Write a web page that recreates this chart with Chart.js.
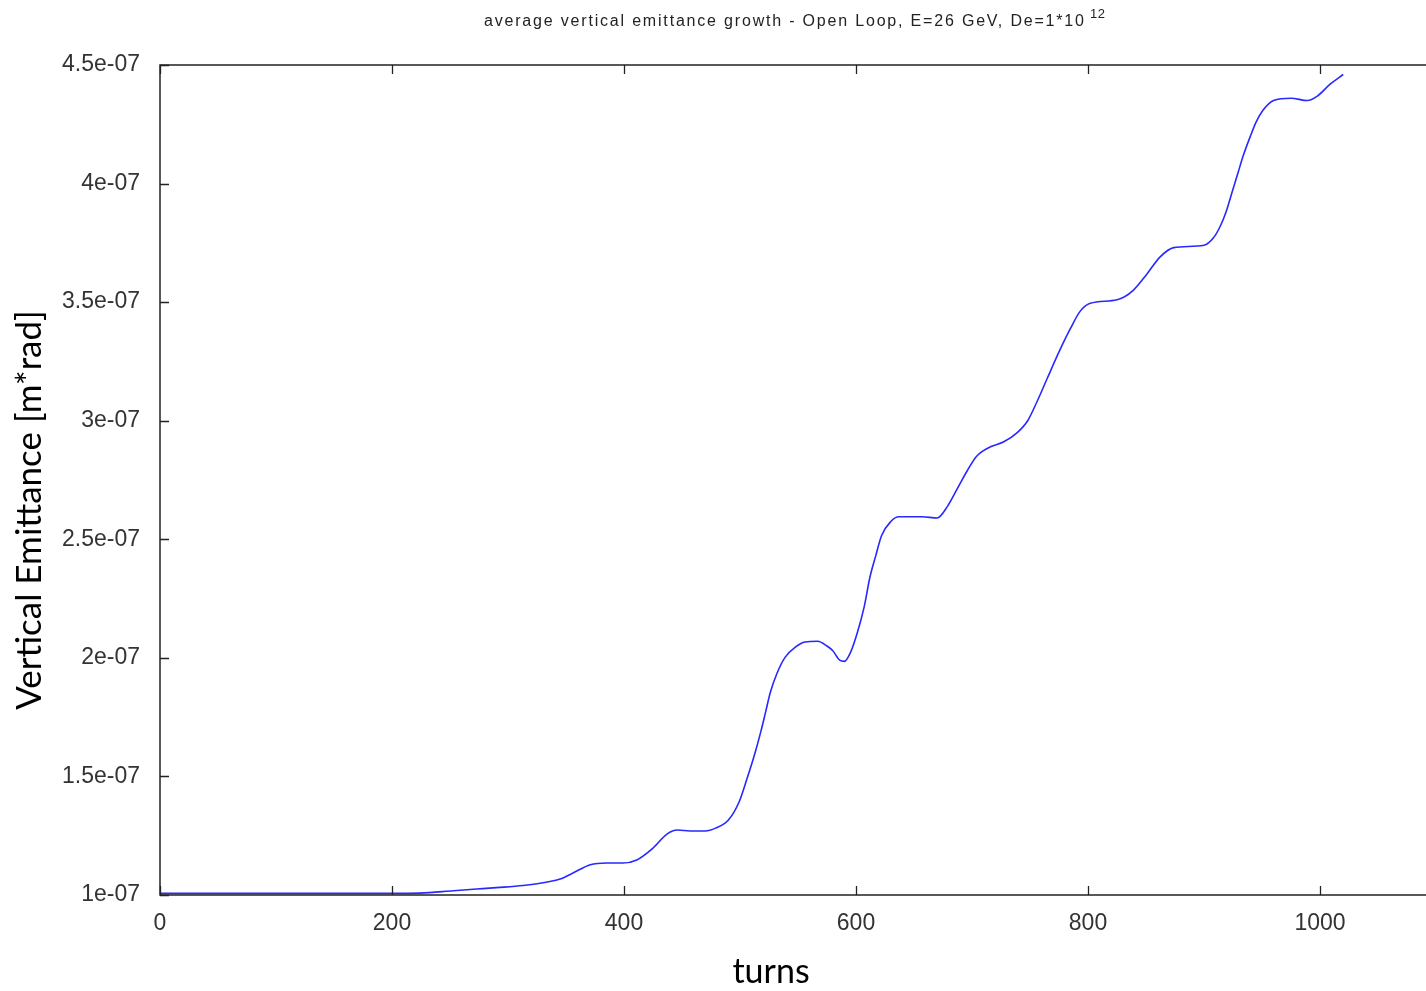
<!DOCTYPE html>
<html>
<head>
<meta charset="utf-8">
<script src="https://cdn.jsdelivr.net/npm/chart.js@4"></script>
<style>
  html, body { margin: 0; padding: 0; background: #fff; overflow: hidden; }
  #wrap { width: 1446px; height: 991px; }
</style>
</head>
<body>
<div id="wrap"><canvas id="emittance-chart" width="1446" height="991"></canvas></div>
<script>
const turns = [
    0, 100, 200, 224, 253, 273, 290, 313, 334, 345, 356, 371, 385, 399, 411,
    425, 437, 446, 457, 470, 479, 490, 499, 506, 513, 518, 522, 526, 532, 539,
    548, 556, 567, 575, 580, 586, 590, 595, 601, 607, 612, 617, 622, 630, 637,
    657, 670, 679, 687, 696, 704, 716, 727, 739, 748, 756, 765, 775, 785, 793,
    802, 825, 839, 851, 862, 874, 900, 908, 914, 919, 924, 929, 934, 940, 945,
    951, 960, 975, 989, 998, 1009, 1020,
];
const emittance = [
    1.007e-7, 1.007e-7, 1.007e-7, 1.008e-7, 1.018e-7, 1.025e-7, 1.031e-7, 1.04e-7, 1.055e-7, 1.067e-7, 1.093e-7, 1.128e-7, 1.135e-7, 1.135e-7, 1.148e-7,
    1.198e-7, 1.257e-7, 1.274e-7, 1.27e-7, 1.27e-7, 1.282e-7, 1.316e-7, 1.39e-7, 1.49e-7, 1.6e-7, 1.69e-7, 1.77e-7, 1.852e-7, 1.936e-7, 2.003e-7,
    2.046e-7, 2.067e-7, 2.07e-7, 2.05e-7, 2.03e-7, 1.99e-7, 1.985e-7, 2.02e-7, 2.104e-7, 2.214e-7, 2.34e-7, 2.43e-7, 2.515e-7, 2.575e-7, 2.595e-7,
    2.595e-7, 2.59e-7, 2.64e-7, 2.71e-7, 2.79e-7, 2.85e-7, 2.89e-7, 2.91e-7, 2.95e-7, 3.00e-7, 3.08e-7, 3.18e-7, 3.29e-7, 3.39e-7, 3.46e-7,
    3.495e-7, 3.51e-7, 3.55e-7, 3.62e-7, 3.69e-7, 3.73e-7, 3.74e-7, 3.77e-7, 3.82e-7, 3.88e-7, 3.96e-7, 4.04e-7, 4.12e-7, 4.2e-7, 4.26e-7,
    4.31e-7, 4.35e-7, 4.36e-7, 4.35e-7, 4.37e-7, 4.42e-7, 4.46e-7,
];
const xTicks = [0, 200, 400, 600, 800, 1000];
const yTicks = [1e-7, 1.5e-7, 2e-7, 2.5e-7, 3e-7, 3.5e-7, 4e-7, 4.5e-7];
const titleText = "average vertical emittance growth - Open Loop, E=26 GeV, De=1*10";
const titleExp = "12";
const xTitle = "turns";
const yTitle = "Vertical Emittance [m*rad]";

const ctx = document.getElementById("emittance-chart");
const tickFont = "'Liberation Sans', Arial, sans-serif";
const labelFont = "Lato, 'Open Sans', sans-serif";

function formatE07(v) {
    const m = Math.round(v * 1e8) / 10;
    return m + "e-07";
}

// frame with inward ticks, title and axis labels
const framePlugin = {
    id: "frame",
    afterDraw(chart) {
        const c = chart.ctx;
        const { left, top, right, bottom } = chart.chartArea;
        c.save();
        c.strokeStyle = "#222";
        c.lineWidth = 1.5;
        c.beginPath();
        c.moveTo(right, top);
        c.lineTo(left, top);
        c.lineTo(left, bottom);
        c.lineTo(right, bottom);
        c.lineTo(right, top);
        c.stroke();
        c.lineWidth = 1.3;
        c.beginPath();
        xTicks.forEach((t) => {
            const x = Math.round(chart.scales.x.getPixelForValue(t)) + 0.5;
            c.moveTo(x, bottom);
            c.lineTo(x, bottom - 9);
            c.moveTo(x, top);
            c.lineTo(x, top + 9);
        });
        yTicks.forEach((t) => {
            const y = Math.round(chart.scales.y.getPixelForValue(t)) + 0.5;
            c.moveTo(left, y);
            c.lineTo(left + 9, y);
        });
        c.stroke();

        // title, spread out to the width of the original
        c.fillStyle = "#222";
        c.textBaseline = "middle";
        c.textAlign = "left";
        c.font = "16px " + tickFont;
        c.letterSpacing = "0px";
        const plain = c.measureText(titleText).width;
        const spacing = (602 - plain) / titleText.length;
        c.letterSpacing = spacing.toFixed(2) + "px";
        c.fillText(titleText, 484, 22);
        c.letterSpacing = "0.5px";
        c.font = "13px " + tickFont;
        c.fillText(titleExp, 1090, 14);
        c.letterSpacing = "0px";

        // axis titles
        c.fillStyle = "#000";
        c.textAlign = "center";
        c.font = "34px " + labelFont;
        c.fillText(xTitle, 771, 972);
        c.translate(30, 510);
        c.rotate(-Math.PI / 2);
        c.font = "35px " + labelFont;
        c.fillText(yTitle, 0, 0);
        c.restore();
    },
};

const data = {
    datasets: [
        {
            label: "emittance",
            data: turns.map((t, i) => ({ x: t, y: emittance[i] })),
            borderColor: "rgb(40, 40, 255)",
            borderWidth: 1.6,
            pointRadius: 0,
            fill: false,
            cubicInterpolationMode: "monotone",
        },
    ],
};

const config = {
    type: "line",
    data,
    options: {
        responsive: false,
        animation: false,
        layout: { padding: { top: 65, right: 10, left: 0, bottom: 0 } },
        plugins: { legend: { display: false }, tooltip: { enabled: false } },
        scales: {
            x: {
                type: "linear",
                min: 0,
                max: 1100,
                grid: { display: false, drawTicks: false },
                border: { display: false },
                afterBuildTicks: (scale) => {
                    scale.ticks = xTicks.map((v) => ({ value: v }));
                },
                afterFit: (scale) => {
                    scale.height = 96;
                },
                ticks: {
                    padding: 15,
                    color: "#333",
                    font: { family: tickFont, size: 23 },
                    callback: (v) => String(v),
                },
            },
            y: {
                min: 1e-7,
                max: 4.5e-7,
                grid: { display: false, drawTicks: false },
                border: { display: false },
                afterBuildTicks: (scale) => {
                    scale.ticks = yTicks.map((v) => ({ value: v }));
                },
                afterFit: (scale) => {
                    scale.width = 160;
                },
                ticks: {
                    padding: 20,
                    color: "#333",
                    font: { family: tickFont, size: 23 },
                    callback: (v) => formatE07(v),
                },
            },
        },
    },
    plugins: [framePlugin],
};

new Chart(ctx, config);
</script>
</body>
</html>
